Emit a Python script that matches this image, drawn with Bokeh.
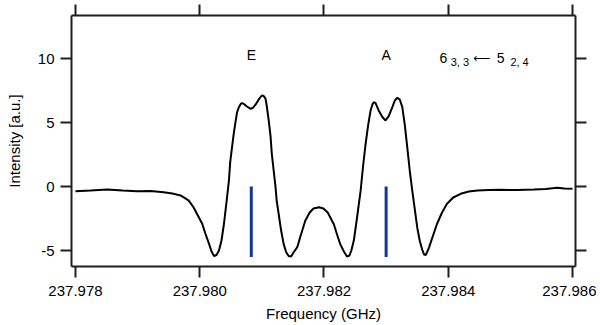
from bokeh.plotting import figure
from bokeh.models import Range1d, FixedTicker, LinearAxis, PrintfTickFormatter, Label, CustomJSTickFormatter
from bokeh.core.properties import value
from bokeh.embed import file_html
from bokeh.resources import INLINE

# ---- data ----
freq = [237.97800, 237.97824, 237.97851, 237.97876, 237.97899, 237.97921, 237.97942, 237.97956,
        237.97969, 237.97982, 237.97990, 237.97997, 237.98004, 237.98009, 237.98015, 237.98019,
        237.98023, 237.98027, 237.98031, 237.98035, 237.98039, 237.98043, 237.98047, 237.98049,
        237.98052, 237.98055, 237.98058, 237.98060, 237.98063, 237.98066, 237.98068, 237.98071,
        237.98076, 237.98082, 237.98086, 237.98090, 237.98095, 237.98100, 237.98103, 237.98106,
        237.98108, 237.98111, 237.98114, 237.98116, 237.98119, 237.98122, 237.98124, 237.98127,
        237.98131, 237.98135, 237.98139, 237.98143, 237.98147, 237.98151, 237.98157, 237.98162,
        237.98170, 237.98177, 237.98183, 237.98192, 237.98199, 237.98206, 237.98210, 237.98216,
        237.98221, 237.98226, 237.98232, 237.98237, 237.98241, 237.98244, 237.98248, 237.98253,
        237.98259, 237.98263, 237.98267, 237.98271, 237.98275, 237.98278, 237.98280, 237.98283,
        237.98288, 237.98294, 237.98299, 237.98304, 237.98310, 237.98314, 237.98318, 237.98322,
        237.98326, 237.98330, 237.98334, 237.98338, 237.98342, 237.98346, 237.98350, 237.98354,
        237.98358, 237.98361, 237.98364, 237.98369, 237.98375, 237.98382, 237.98390, 237.98398,
        237.98408, 237.98420, 237.98433, 237.98447, 237.98465, 237.98484, 237.98510, 237.98538,
        237.98557, 237.98575, 237.98587, 237.98600]
intensity = [-0.37, -0.31, -0.23, -0.31, -0.37, -0.35, -0.45, -0.55,
             -0.70, -1.09, -1.62, -2.27, -2.91, -3.67, -4.48, -5.08,
             -5.43, -5.35, -5.00, -4.22, -2.91, -1.25, 0.47, 1.88,
             3.07, 4.22, 5.16, 5.78, 6.20, 6.45, 6.51, 6.45,
             6.25, 6.07, 6.17, 6.41, 6.80, 7.11, 7.07, 6.85,
             6.25, 5.16, 3.91, 2.55, 1.25, -0.05, -1.17, -2.13,
             -3.44, -4.48, -5.12, -5.43, -5.47, -5.16, -4.74, -3.91,
             -2.66, -2.03, -1.72, -1.62, -1.72, -2.03, -2.40, -2.97,
             -3.75, -4.48, -5.08, -5.47, -5.39, -5.00, -4.22, -2.50,
             -0.31, 1.64, 3.34, 4.77, 5.94, 6.41, 6.59, 6.52,
             5.94, 5.43, 5.16, 5.47, 6.20, 6.72, 6.93, 6.80,
             6.20, 4.84, 3.07, 1.25, -0.31, -1.72, -3.18, -4.22,
             -4.92, -5.31, -5.35, -4.77, -3.91, -2.91, -2.03, -1.35,
             -0.86, -0.57, -0.39, -0.31, -0.27, -0.26, -0.27, -0.23,
             -0.20, -0.10, -0.16, -0.18]

stick_freq = [237.98083, 237.98300]
stick_top = [0.0, 0.0]
stick_bottom = [-5.5, -5.5]
stick_names = ["E", "A"]

x_ticks = [237.978, 237.980, 237.982, 237.984, 237.986]
y_ticks = [-5, 0, 5, 10]

FONT = "Liberation Sans"
AXIS_COLOR = "#1e1e1e"

p = figure(width=596, height=324,
           x_range=Range1d(237.977936, 237.986048),
           y_range=Range1d(-6.25, 13.36),
           output_backend="svg", toolbar_location=None,
           min_border_left=71, min_border_right=21,
           min_border_top=15, min_border_bottom=58,
           x_axis_label="Frequency (GHz)", y_axis_label="Intensity [a.u.]")
p.outline_line_color = None
p.xgrid.visible = False
p.ygrid.visible = False
p.background_fill_color = "white"
p.border_fill_color = "white"

def style_axis(ax, ticks):
    ax.ticker = FixedTicker(ticks=ticks, minor_ticks=[])
    ax.axis_line_color = AXIS_COLOR
    ax.axis_line_width = 2
    ax.major_tick_line_color = AXIS_COLOR
    ax.major_tick_line_width = 2
    ax.major_tick_in = 0
    ax.major_tick_out = 11
    ax.minor_tick_line_color = None
    ax.major_label_text_font = FONT
    ax.major_label_text_font_size = "15px"
    ax.major_label_text_color = "black"
    ax.axis_label_text_font = FONT
    ax.axis_label_text_font_size = "15px"
    ax.axis_label_text_font_style = "normal"
    ax.axis_label_text_color = "black"

xa = p.xaxis[0]
style_axis(xa, x_ticks)
xa.formatter = PrintfTickFormatter(format="%.3f")
xa.major_label_standoff = 8
xa.axis_label_standoff = 6

ya = p.yaxis[0]
style_axis(ya, y_ticks)
ya.formatter = CustomJSTickFormatter(code="return tick.toFixed(0);")
ya.major_label_standoff = 6
ya.axis_label_standoff = 12

blank = CustomJSTickFormatter(code="return '';")

top = LinearAxis()
style_axis(top, x_ticks)
top.formatter = blank
top.major_label_text_font_size = "1px"
top.major_label_standoff = 0
p.add_layout(top, "above")

right = LinearAxis()
style_axis(right, y_ticks)
right.formatter = blank
right.major_label_text_font_size = "1px"
right.major_label_standoff = 0
p.add_layout(right, "right")

p.line(freq, intensity, line_color="black", line_width=2)
p.segment(x0=stick_freq, y0=stick_top, x1=stick_freq, y1=stick_bottom,
          line_color="#14369a", line_width=3)

p.text(x=stick_freq, y=[10.29, 10.29], text=stick_names, text_font=value(FONT),
       text_font_size="14px", text_align="center", text_baseline="alphabetic",
       text_color="black")

# transition label 6_{3,3} <- 5_{2,4}
pieces = [("6", 237.98386, 10.02, "14px", FONT),
          ("3, 3", 237.98404, 9.72, "11px", FONT),
          ("\u27f5", 237.98440, 10.05, "12px", "DejaVu Sans"),
          ("5", 237.98478, 10.02, "14px", FONT),
          ("2, 4", 237.98500, 9.72, "11px", FONT)]
for t, x, y, fs, fn in pieces:
    p.add_layout(Label(x=x, y=y, text=t, text_font=fn, text_font_size=fs,
                       text_align="left", text_baseline="alphabetic", text_color="black"))

open("out.html", "w").write(file_html(p, INLINE))
